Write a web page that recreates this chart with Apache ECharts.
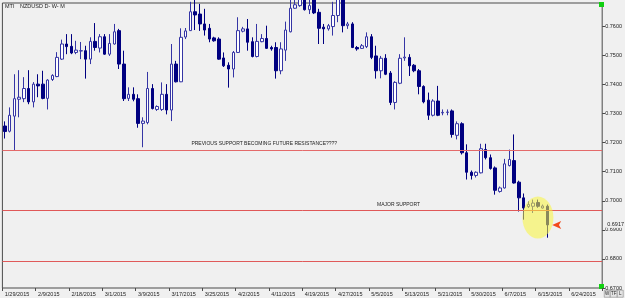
<!DOCTYPE html>
<html>
<head>
<meta charset="utf-8">
<script src="https://cdn.jsdelivr.net/npm/echarts@6/dist/echarts.min.js"></script>
<style>
html, body { margin: 0; padding: 0; background: #f0f0f0; }
#chart { width: 625px; height: 298px; }
</style>
</head>
<body>
<div id="chart"></div>
<script>
// NZDUSD daily bars, each [open, close, low, high]
var candles = [
  [0.7257, 0.7238, 0.7214, 0.7273], [0.7239, 0.7294, 0.7235, 0.7321], [0.7291, 0.7351, 0.7172, 0.7435],
  [0.7349, 0.7356, 0.7287, 0.7449], [0.7351, 0.7386, 0.7339, 0.7425], [0.7386, 0.7340, 0.7332, 0.7449],
  [0.7340, 0.7401, 0.7321, 0.7408], [0.7401, 0.7395, 0.7356, 0.7435], [0.7401, 0.7352, 0.7349, 0.7447],
  [0.7352, 0.7415, 0.7314, 0.7418], [0.7417, 0.7431, 0.7412, 0.7435], [0.7427, 0.7493, 0.7425, 0.7511],
  [0.7487, 0.7539, 0.7484, 0.7554], [0.7539, 0.7530, 0.7504, 0.7573], [0.7531, 0.7508, 0.7504, 0.7573],
  [0.7510, 0.7518, 0.7504, 0.7550], [0.7515, 0.7516, 0.7487, 0.7546], [0.7516, 0.7487, 0.7420, 0.7533],
  [0.7487, 0.7548, 0.7470, 0.7562], [0.7548, 0.7527, 0.7516, 0.7611], [0.7525, 0.7564, 0.7510, 0.7573],
  [0.7564, 0.7504, 0.7502, 0.7573], [0.7504, 0.7541, 0.7498, 0.7573], [0.7539, 0.7581, 0.7537, 0.7608],
  [0.7585, 0.7470, 0.7453, 0.7591], [0.7470, 0.7351, 0.7343, 0.7516], [0.7352, 0.7366, 0.7343, 0.7390],
  [0.7366, 0.7349, 0.7342, 0.7390], [0.7351, 0.7266, 0.7251, 0.7366], [0.7266, 0.7274, 0.7184, 0.7287],
  [0.7269, 0.7386, 0.7263, 0.7443], [0.7386, 0.7317, 0.7314, 0.7401], [0.7314, 0.7324, 0.7309, 0.7328],
  [0.7314, 0.7366, 0.7309, 0.7407], [0.7366, 0.7312, 0.7297, 0.7401], [0.7312, 0.7470, 0.7274, 0.7539],
  [0.7470, 0.7409, 0.7407, 0.7481], [0.7409, 0.7562, 0.7408, 0.7593], [0.7563, 0.7584, 0.7556, 0.7594],
  [0.7585, 0.7650, 0.7584, 0.7684], [0.7650, 0.7639, 0.7587, 0.7711], [0.7642, 0.7608, 0.7584, 0.7677],
  [0.7608, 0.7587, 0.7568, 0.7660], [0.7593, 0.7556, 0.7545, 0.7608], [0.7560, 0.7550, 0.7547, 0.7564],
  [0.7556, 0.7487, 0.7485, 0.7562], [0.7491, 0.7464, 0.7460, 0.7510], [0.7466, 0.7453, 0.7389, 0.7476],
  [0.7453, 0.7510, 0.7424, 0.7515], [0.7510, 0.7585, 0.7508, 0.7631], [0.7583, 0.7591, 0.7579, 0.7598],
  [0.7591, 0.7545, 0.7516, 0.7625], [0.7547, 0.7496, 0.7493, 0.7562], [0.7496, 0.7548, 0.7493, 0.7608],
  [0.7547, 0.7558, 0.7545, 0.7573], [0.7558, 0.7524, 0.7522, 0.7602], [0.7527, 0.7522, 0.7516, 0.7533],
  [0.7527, 0.7447, 0.7420, 0.7545], [0.7447, 0.7522, 0.7435, 0.7545], [0.7518, 0.7587, 0.7481, 0.7616],
  [0.7581, 0.7662, 0.7579, 0.7691], [0.7662, 0.7674, 0.7660, 0.7705], [0.7671, 0.7701, 0.7667, 0.7722],
  [0.7705, 0.7657, 0.7654, 0.7722], [0.7657, 0.7671, 0.7642, 0.7694], [0.7701, 0.7646, 0.7642, 0.7715],
  [0.7648, 0.7593, 0.7539, 0.7660], [0.7597, 0.7591, 0.7539, 0.7608], [0.7591, 0.7602, 0.7585, 0.7608],
  [0.7599, 0.7637, 0.7568, 0.7684], [0.7637, 0.7698, 0.7614, 0.7711], [0.7698, 0.7602, 0.7579, 0.7711],
  [0.7602, 0.7608, 0.7591, 0.7615], [0.7608, 0.7527, 0.7525, 0.7614], [0.7527, 0.7522, 0.7516, 0.7532],
  [0.7524, 0.7533, 0.7522, 0.7539], [0.7530, 0.7564, 0.7525, 0.7579], [0.7564, 0.7493, 0.7487, 0.7573],
  [0.7498, 0.7447, 0.7420, 0.7533], [0.7447, 0.7490, 0.7421, 0.7498], [0.7490, 0.7435, 0.7432, 0.7504],
  [0.7439, 0.7338, 0.7329, 0.7446], [0.7338, 0.7407, 0.7314, 0.7411], [0.7404, 0.7490, 0.7401, 0.7504],
  [0.7491, 0.7494, 0.7481, 0.7562], [0.7493, 0.7464, 0.7429, 0.7504], [0.7466, 0.7447, 0.7442, 0.7470],
  [0.7447, 0.7393, 0.7366, 0.7453], [0.7393, 0.7340, 0.7335, 0.7397], [0.7346, 0.7294, 0.7278, 0.7372],
  [0.7294, 0.7343, 0.7290, 0.7349], [0.7343, 0.7294, 0.7291, 0.7395], [0.7302, 0.7304, 0.7294, 0.7314],
  [0.7304, 0.7305, 0.7294, 0.7314], [0.7309, 0.7228, 0.7217, 0.7314], [0.7225, 0.7265, 0.7211, 0.7273],
  [0.7265, 0.7165, 0.7159, 0.7270], [0.7165, 0.7098, 0.7073, 0.7194], [0.7098, 0.7087, 0.7073, 0.7104],
  [0.7087, 0.7098, 0.7080, 0.7101], [0.7096, 0.7179, 0.7094, 0.7196], [0.7176, 0.7148, 0.7142, 0.7196],
  [0.7148, 0.7111, 0.7107, 0.7159], [0.7113, 0.7036, 0.7021, 0.7118], [0.7032, 0.7044, 0.7028, 0.7049],
  [0.7044, 0.7127, 0.7042, 0.7144], [0.7121, 0.7142, 0.7118, 0.7176], [0.7138, 0.7061, 0.7059, 0.7228],
  [0.7064, 0.7010, 0.6963, 0.7069], [0.7010, 0.6975, 0.6935, 0.7025], [0.6980, 0.6987, 0.6975, 0.6998],
  [0.6981, 0.6992, 0.6958, 0.7004], [0.6994, 0.6981, 0.6976, 0.7004], [0.6975, 0.6982, 0.6973, 0.6987],
  [0.6981, 0.6917, 0.6873, 0.6987]
];
var tickLabels = ['1/29/2015', '2/9/2015', '2/18/2015', '3/1/2015', '3/9/2015', '3/17/2015',
  '3/25/2015', '4/2/2015', '4/11/2015', '4/19/2015', '4/27/2015', '5/5/2015',
  '5/13/2015', '5/21/2015', '5/30/2015', '6/7/2015', '6/15/2015', '6/24/2015'];
var barsPerTick = 7;
var slotCount = 126;            // bar slots on screen, the last ones still empty
var resistance = 0.7173;        // previous support
var majorSupport = 0.6966;
var lowerLine = 0.6793;
var lastPrice = 0.6917;

var categories = [];
for (var i = 0; i < slotCount; i++) categories.push(String(i));

var navy = '#000080';
var font = 'Liberation Sans';

var chart = echarts.init(document.getElementById('chart'));
chart.setOption({
  animation: false,
  backgroundColor: '#f0f0f0',
  grid: { left: 2.4, right: 21.5, top: 3, bottom: 10, show: true, borderColor: '#4a4a4a', borderWidth: 1, backgroundColor: '#f0f0f0' },
  xAxis: {
    type: 'category',
    data: categories,
    boundaryGap: true,
    axisLine: { show: false },
    axisTick: {
      show: true, length: 3, lineStyle: { color: '#4a4a4a' },
      interval: function (idx) { return idx % barsPerTick === 0; }
    },
    axisLabel: {
      fontFamily: font, fontSize: 5.5, color: '#222', align: 'left', margin: 3,
      interval: function (idx) { return idx % barsPerTick === 0; },
      formatter: function (v, idx) { return tickLabels[idx / barsPerTick] || ''; }
    },
    splitLine: { show: false }
  },
  yAxis: {
    type: 'value',
    position: 'right',
    min: 0.67, max: 0.768, interval: 0.01,
    axisLine: { show: false },
    axisTick: { show: true, length: 3, lineStyle: { color: '#4a4a4a' } },
    axisLabel: {
      fontFamily: font, fontSize: 5.5, color: '#222', margin: 3, showMaxLabel: false,
      formatter: function (v) { return v.toFixed(4); }
    },
    splitLine: { show: false }
  },
  graphic: [
    { type: 'text', left: 5, top: 3, style: { text: 'MTI', font: '5.5px "Liberation Sans"', fill: '#222' } },
    { type: 'text', left: 20, top: 3, style: { text: 'NZDUSD D- W- M', font: '5.5px "Liberation Sans"', fill: '#222' } },
    { type: 'rect', left: 599, top: 2, shape: { width: 5, height: 5 }, style: { fill: '#10d010' } },
    { type: 'rect', left: 599, top: 284, shape: { width: 5, height: 5 }, style: { fill: '#10d010' } },
    // little toolbar buttons in the bottom-right corner
    { type: 'rect', left: 604, top: 290, shape: { width: 6, height: 7 }, style: { fill: '#e4e4e4', stroke: '#777', lineWidth: 0.5 } },
    { type: 'rect', left: 610, top: 290, shape: { width: 7, height: 7 }, style: { fill: '#e4e4e4', stroke: '#777', lineWidth: 0.5 } },
    { type: 'rect', left: 617, top: 290, shape: { width: 6, height: 7 }, style: { fill: '#e4e4e4', stroke: '#777', lineWidth: 0.5 } },
    { type: 'text', left: 605, top: 291, style: { text: 'W', font: '4.5px "Liberation Sans"', fill: '#222' } },
    { type: 'text', left: 611, top: 291, style: { text: 'TF', font: '4.5px "Liberation Sans"', fill: '#222' } },
    { type: 'text', left: 619, top: 291, style: { text: 'L', font: '4.5px "Liberation Sans"', fill: '#222' } }
  ],
  series: [{
    type: 'candlestick',
    data: candles,
    clip: true,
    barWidth: 3,
    itemStyle: {
      color: '#ffffff',
      color0: navy,
      borderColor: '#3535a5',
      borderColor0: navy,
      borderWidth: 1
    },
    markLine: {
      silent: true,
      symbol: 'none',
      precision: 4,
      label: { show: false },
      lineStyle: { color: '#e05858', width: 1, type: 'solid' },
      data: [
        { yAxis: resistance, lineStyle: { color: '#e46a6a', width: 1, type: 'solid' } },
        { yAxis: majorSupport, lineStyle: { color: '#e05858', width: 1, type: 'solid' } },
        { yAxis: lowerLine, lineStyle: { color: '#e05a5a', width: 1, type: 'solid' } },
        {
          yAxis: lastPrice, lineStyle: { color: 'rgba(0,0,0,0)', width: 0 },
          label: {
            show: true, position: 'end', distance: 4, formatter: lastPrice.toFixed(4),
            fontFamily: font, fontSize: 5.5, color: '#222',
            backgroundColor: '#f0f0f0', padding: [0, 1]
          }
        }
      ]
    },
    markPoint: {
      silent: true,
      data: [
        {
          coord: [39, 0.7197], symbol: 'circle', symbolSize: 0,
          label: { show: true, position: 'right', distance: 1, formatter: 'PREVIOUS SUPPORT BECOMING FUTURE RESISTANCE????', fontFamily: font, fontSize: 5, color: '#222' }
        },
        {
          coord: [78, 0.6988], symbol: 'circle', symbolSize: 0,
          label: { show: true, position: 'right', distance: 1, formatter: 'MAJOR SUPPORT', fontFamily: font, fontSize: 5, color: '#222' }
        },
        {
          coord: [112, 0.6942], symbol: 'circle', symbolSize: [31, 42],
          itemStyle: { color: 'rgba(250,245,60,0.55)' }, label: { show: false }
        },
        {
          coord: [115, lastPrice], symbol: 'arrow', symbolSize: [6, 9], symbolRotate: 90,
          itemStyle: { color: '#f24a1c' }, label: { show: false }
        }
      ]
    }
  }]
});
</script>
</body>
</html>
